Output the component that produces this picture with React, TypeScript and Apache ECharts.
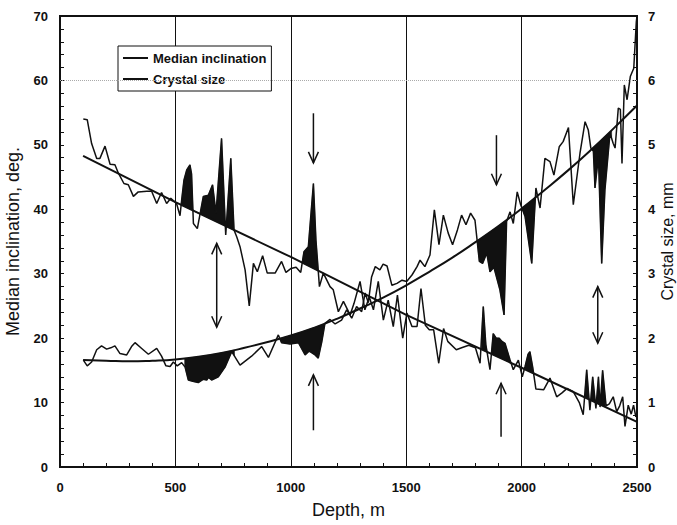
import React, { useEffect, useRef } from "react";
import * as echarts from "echarts";

// Median inclination, deg. (left axis) : [depth m, value]
const inclination: [number, number][] = [
  [101, 54.0], [118, 53.9], [137, 50.2], [159, 47.9], [173, 47.9], [195, 49.8], [217, 47.0], [238, 46.9],
  [253, 45.6], [277, 44.0], [296, 43.8], [318, 42.0], [339, 42.7], [376, 42.8], [397, 42.8], [419, 40.9],
  [440, 42.6], [462, 40.9], [480, 41.7], [505, 40.9], [520, 39.0], [527, 41.4], [537, 44.5], [549, 46.1],
  [563, 46.9], [570, 45.5], [578, 37.8], [595, 37.0], [621, 42.0], [643, 42.2], [661, 43.8], [676, 39.4],
  [700, 51.0], [718, 36.0], [740, 47.9], [754, 36.8], [766, 35.7], [780, 34.2], [802, 30.6], [820, 25.0],
  [838, 31.6], [855, 30.3], [878, 32.8], [898, 30.1], [932, 30.1], [960, 31.9], [979, 30.2], [1000, 30.8],
  [1023, 31.0], [1043, 30.2], [1057, 33.4], [1076, 34.2], [1098, 44.0], [1109, 35.2], [1124, 28.0], [1141, 30.1],
  [1170, 28.0], [1184, 27.5], [1206, 24.1], [1228, 25.7], [1257, 23.6], [1274, 25.4], [1300, 28.8], [1321, 24.4],
  [1340, 26.4], [1358, 24.4], [1379, 28.8], [1401, 22.8], [1422, 25.9], [1444, 21.8], [1462, 26.7], [1485, 20.0],
  [1503, 23.9], [1525, 21.8], [1547, 21.8], [1564, 27.7], [1583, 22.0], [1600, 21.3], [1619, 21.3], [1641, 16.1],
  [1662, 21.5], [1680, 19.5], [1717, 18.2], [1740, 18.5], [1771, 18.9], [1800, 18.5], [1820, 16.1], [1834, 24.9],
  [1845, 19.0], [1863, 15.1], [1877, 20.7], [1890, 20.0], [1903, 20.0], [1915, 19.5], [1928, 19.2], [1950, 16.6],
  [1964, 15.1], [1986, 16.6], [2003, 14.0], [2015, 15.6], [2028, 17.5], [2036, 17.9], [2048, 15.5], [2062, 12.1],
  [2096, 12.0], [2123, 13.8], [2152, 10.9], [2175, 11.5], [2197, 12.2], [2224, 11.7], [2250, 10.0], [2267, 8.1],
  [2282, 15.1], [2296, 8.8], [2308, 14.0], [2322, 9.1], [2333, 14.0], [2340, 9.3], [2351, 15.0], [2366, 9.5],
  [2380, 9.8], [2397, 10.9], [2412, 8.6], [2425, 9.5], [2438, 10.9], [2448, 6.3], [2462, 9.6], [2475, 8.2],
  [2485, 9.6], [2495, 7.8], [2500, 8.0],
];

// Crystal size, mm (right axis) : [depth m, value]
const crystalSize: [number, number][] = [
  [101, 1.66], [118, 1.57], [137, 1.63], [159, 1.82], [180, 1.88], [202, 1.83], [220, 1.85], [238, 1.88],
  [260, 1.76], [289, 1.74], [310, 1.87], [325, 1.93], [354, 1.84], [383, 1.75], [419, 1.84], [440, 1.72],
  [459, 1.57], [477, 1.56], [491, 1.63], [508, 1.57], [527, 1.62], [542, 1.55], [556, 1.35], [575, 1.33],
  [599, 1.31], [620, 1.36], [636, 1.35], [643, 1.39], [657, 1.35], [686, 1.40], [715, 1.55], [744, 1.79],
  [780, 1.58], [830, 1.72], [874, 1.87], [903, 1.70], [946, 2.05], [960, 1.93], [997, 1.91], [1033, 1.93],
  [1062, 1.74], [1080, 1.80], [1105, 1.74], [1119, 1.69], [1134, 1.94], [1148, 2.23], [1170, 2.29], [1192, 2.22],
  [1220, 2.28], [1242, 2.44], [1264, 2.31], [1285, 2.49], [1307, 2.41], [1322, 2.70], [1336, 2.55], [1350, 2.95],
  [1366, 3.11], [1386, 3.06], [1400, 3.15], [1417, 3.12], [1438, 2.82], [1460, 2.85], [1482, 2.90], [1502, 2.88],
  [1525, 2.98], [1547, 3.11], [1560, 3.21], [1581, 3.11], [1603, 3.29], [1622, 3.99], [1642, 3.45], [1661, 3.91],
  [1682, 3.63], [1701, 3.45], [1722, 3.68], [1740, 3.91], [1759, 3.76], [1779, 3.94], [1798, 3.83], [1817, 3.19],
  [1831, 3.16], [1849, 3.32], [1863, 3.03], [1880, 3.10], [1906, 2.75], [1924, 2.36], [1935, 3.81], [1950, 3.96],
  [1964, 3.78], [1981, 4.27], [1996, 4.07], [2015, 3.89], [2044, 3.16], [2062, 4.33], [2080, 4.02], [2101, 4.79],
  [2123, 4.74], [2140, 4.53], [2163, 4.97], [2180, 5.05], [2203, 5.27], [2224, 4.07], [2253, 4.87], [2275, 5.36],
  [2289, 5.23], [2300, 4.95], [2311, 4.90], [2318, 4.33], [2333, 4.82], [2347, 3.16], [2361, 4.30], [2383, 5.18],
  [2397, 5.02], [2405, 4.95], [2419, 5.57], [2428, 5.55], [2435, 4.71], [2445, 5.93], [2457, 5.70], [2471, 6.06],
  [2486, 6.19], [2497, 6.91], [2500, 7.0],
];

// Trend curves
const inclinationFit: [number, number][] = [
  [100, 48.3], [500, 41.1], [1000, 32.6], [1500, 23.6], [2000, 15.4], [2500, 7.0],
];
const crystalFit: [number, number][] = [
  [100, 1.66], [200, 1.65], [300, 1.64], [400, 1.65], [500, 1.67], [600, 1.71], [700, 1.77], [800, 1.85],
  [900, 1.94], [1000, 2.04], [1100, 2.16], [1200, 2.30], [1300, 2.46], [1400, 2.63], [1500, 2.82], [1600, 3.03],
  [1700, 3.25], [1800, 3.49], [1900, 3.74], [2000, 4.01], [2100, 4.30], [2200, 4.60], [2300, 4.92], [2400, 5.26],
  [2500, 5.61],
];

// Depth ranges shaded black between data and trend
const inclinationShaded: [number, number][] = [[522, 760], [1045, 1118], [1826, 1962], [2008, 2052], [2268, 2364]];
const crystalShaded: [number, number][] = [[540, 756], [945, 1145], [1806, 1934], [1998, 2062], [2290, 2390]];

// Arrows (depth, top value, bottom value, head) on the inclination scale
const arrowDepth = [679, 1098, 1098, 1891, 1911, 2330];
const arrowTop = [34.7, 54.9, 14.3, 51.5, 13.0, 28.0];
const arrowBottom = [21.7, 47.2, 5.7, 43.8, 4.7, 19.2];
const arrowHead = ["both", "down", "up", "down", "up", "both"];

const xTicks = { min: 0, max: 2500, step: 500 };
const yLeftTicks = { min: 0, max: 70, step: 10 };
const yRightTicks = { min: 0, max: 7, step: 1 };

function interp(pairs: [number, number][], d: number): number {
  if (d <= pairs[0][0]) return pairs[0][1];
  for (let i = 0; i < pairs.length - 1; i++) {
    const [x0, y0] = pairs[i];
    const [x1, y1] = pairs[i + 1];
    if (d >= x0 && d <= x1) return x1 === x0 ? y0 : y0 + ((y1 - y0) * (d - x0)) / (x1 - x0);
  }
  return pairs[pairs.length - 1][1];
}

function bands(ranges: [number, number][], data: [number, number][], fit: [number, number][], above: boolean) {
  return ranges.map(([a, b]) => {
    const ds: number[] = [a];
    data.forEach(([d]) => { if (d > a && d < b) ds.push(d); });
    ds.push(b);
    const all: number[] = [];
    for (let i = 0; i < ds.length; i++) {
      all.push(ds[i]);
      if (i < ds.length - 1) {
        const g0 = interp(data, ds[i]) - interp(fit, ds[i]);
        const g1 = interp(data, ds[i + 1]) - interp(fit, ds[i + 1]);
        if (g0 * g1 < 0) all.push(ds[i] + ((ds[i + 1] - ds[i]) * g0) / (g0 - g1));
      }
    }
    const edge = all.map((d) => {
      const v = interp(data, d);
      const f = interp(fit, d);
      return [d, above ? Math.max(v, f) : Math.min(v, f)] as [number, number];
    });
    const base = all.slice().reverse().map((d) => [d, interp(fit, d)] as [number, number]);
    return edge.concat(base);
  });
}

export default function App() {
  const ref = useRef<HTMLDivElement>(null);
  useEffect(() => {
    if (!ref.current) return;
    const chart = echarts.init(ref.current, undefined, { renderer: "svg" });
    const incBands = bands(inclinationShaded, inclination, inclinationFit, true);
    const sizeBands = bands(crystalShaded, crystalSize, crystalFit, false);
    const black = "#111";
    const font = "'Liberation Sans', Arial, sans-serif";
    const axisCommon = {
      axisLine: { show: true, lineStyle: { color: black, width: 2 } },
      axisTick: { show: true, inside: true, length: 4, lineStyle: { color: black, width: 1 } },
      minorTick: { show: true, splitNumber: 5, length: 4, lineStyle: { color: black, width: 1 } },
      axisLabel: { color: black, fontSize: 13, fontWeight: "bold" as const, fontFamily: font, formatter: (v: number) => String(v) },
      nameTextStyle: { color: black, fontSize: 18, fontFamily: font },
    };
    const bandSeries = (polys: [number, number][][], yIdx: number, name: string) => ({
      type: "custom" as const,
      name,
      xAxisIndex: 0,
      yAxisIndex: yIdx,
      silent: true,
      data: polys.map((p) => [p[0][0], p[0][1]]),
      renderItem: (params: any, api: any) => {
        const poly = polys[params.dataIndex];
        return {
          type: "polygon",
          shape: { points: poly.map((p) => api.coord(p)) },
          style: { fill: black, stroke: black, lineWidth: 0.5 },
        };
      },
      z: 2,
    });
    chart.setOption({
      animation: false,
      backgroundColor: "#fff",
      textStyle: { fontFamily: font },
      grid: {
        left: 60, right: 40, top: 16, bottom: 58,
        outerBoundsMode: "none",
        containLabel: false,
        show: true, borderColor: black, borderWidth: 2, backgroundColor: "transparent",
      },
      legend: {
        data: ["Median inclination", "Crystal size"],
        orient: "vertical",
        left: 118,
        top: 46,
        padding: [5, 5, 5, 5],
        itemGap: 7,
        itemWidth: 25,
        itemHeight: 2,
        icon: "rect",
        itemStyle: { color: black },
        borderColor: black,
        borderWidth: 1,
        backgroundColor: "#fff",
        textStyle: { color: black, fontSize: 13, fontWeight: "bold", fontFamily: font, lineHeight: 14 },
      },
      xAxis: {
        type: "value",
        min: xTicks.min,
        max: xTicks.max,
        interval: xTicks.step,
        name: "Depth, m",
        nameLocation: "middle",
        nameGap: 34,
        splitLine: { show: true, lineStyle: { color: black, width: 1 } },
        ...axisCommon,
        axisLabel: { ...axisCommon.axisLabel, margin: 14 },
      },
      yAxis: [
        {
          type: "value",
          position: "left",
          min: yLeftTicks.min,
          max: yLeftTicks.max,
          interval: yLeftTicks.step,
          name: "Median inclination, deg.",
          nameLocation: "middle",
          nameGap: 38,
          splitLine: { show: false },
          ...axisCommon,
          axisLabel: { ...axisCommon.axisLabel, margin: 12 },
        },
        {
          type: "value",
          position: "right",
          min: yRightTicks.min,
          max: yRightTicks.max,
          interval: yRightTicks.step,
          name: "Crystal size, mm",
          nameLocation: "middle",
          nameGap: 22,
          nameRotate: 90,
          nameMoveOverlap: false,
          splitLine: { show: false },
          ...axisCommon,
          nameTextStyle: { color: black, fontSize: 16, fontFamily: font },
          axisLabel: { ...axisCommon.axisLabel, margin: 11 },
        },
      ],
      series: [
        bandSeries(incBands, 0, "incShade"),
        bandSeries(sizeBands, 1, "sizeShade"),
        {
          name: "incTrend",
          type: "line",
          yAxisIndex: 0,
          data: inclinationFit,
          symbol: "none",
          lineStyle: { color: black, width: 2 },
          z: 3,
          markLine: {
            silent: true,
            symbol: "none",
            label: { show: false },
            lineStyle: { color: "#aaa", type: "dotted", width: 1 },
            data: [{ yAxis: 60 }],
          },
        },
        {
          name: "sizeTrend",
          type: "line",
          yAxisIndex: 1,
          data: crystalFit,
          symbol: "none",
          smooth: true,
          lineStyle: { color: black, width: 2 },
          z: 3,
        },
        {
          name: "Median inclination",
          type: "line",
          yAxisIndex: 0,
          data: inclination,
          symbol: "none",
          color: black,
          lineStyle: { color: black, width: 1.5 },
          z: 4,
        },
        {
          name: "Crystal size",
          type: "line",
          yAxisIndex: 1,
          data: crystalSize,
          symbol: "none",
          color: black,
          lineStyle: { color: black, width: 1.5 },
          z: 4,
        },
        {
          name: "arrows",
          type: "custom",
          yAxisIndex: 0,
          silent: true,
          data: arrowDepth.map((d, i) => [d, arrowTop[i], arrowBottom[i]]),
          renderItem: (params: any, api: any) => {
            const i = params.dataIndex;
            const p1 = api.coord([arrowDepth[i], arrowTop[i]]);
            const p2 = api.coord([arrowDepth[i], arrowBottom[i]]);
            const st = { stroke: black, lineWidth: 1.5, fill: "none" };
            const children: any[] = [
              { type: "line", shape: { x1: p1[0], y1: p1[1], x2: p2[0], y2: p2[1] }, style: st },
            ];
            const h = arrowHead[i];
            if (h === "up" || h === "both")
              children.push({ type: "polyline", shape: { points: [[p1[0] - 5, p1[1] + 11], [p1[0], p1[1]], [p1[0] + 5, p1[1] + 11]] }, style: st });
            if (h === "down" || h === "both")
              children.push({ type: "polyline", shape: { points: [[p2[0] - 5, p2[1] - 11], [p2[0], p2[1]], [p2[0] + 5, p2[1] - 11]] }, style: st });
            return { type: "group", children };
          },
          z: 5,
        },
      ],
    });
    return () => chart.dispose();
  }, []);
  return <div ref={ref} style={{ position: "absolute", left: 0, top: 0, width: 677, height: 525, background: "#fff" }} />;
}
